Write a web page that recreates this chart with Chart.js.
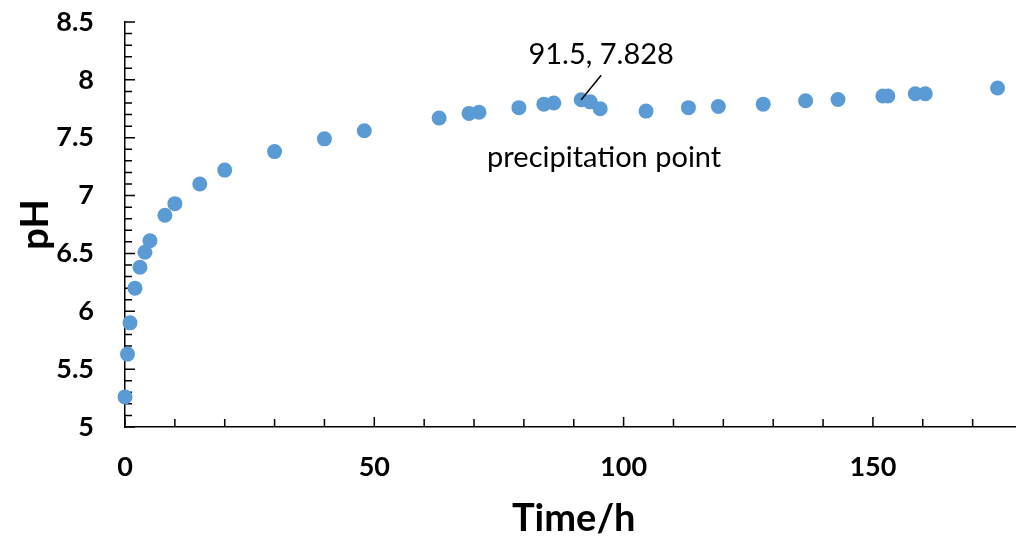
<!DOCTYPE html>
<html>
<head>
<meta charset="utf-8">
<script src="https://cdn.jsdelivr.net/npm/chart.js@4.4.1/dist/chart.umd.min.js"></script>
<style>
  html, body { margin: 0; padding: 0; background: #fff; }
  #wrap { width: 1016px; height: 540px; overflow: hidden; position: relative; }
  #phChart { display: block; }
</style>
</head>
<body>
<div id="wrap">
  <canvas id="phChart" width="1030" height="540"></canvas>
</div>
<script>
// pH over time
const timeH = [0, 0.5, 1, 2, 3, 4, 5, 8, 10, 15, 20, 30, 40, 48, 63, 69, 71, 79, 84, 86,
               91.5, 93.3, 95.3, 104.5, 113, 119, 128, 136.5, 143, 152, 153, 158.5, 160.5, 175];
const pH = [5.26, 5.63, 5.90, 6.20, 6.38, 6.51, 6.61, 6.83, 6.93, 7.10, 7.22, 7.38, 7.49, 7.56, 7.67, 7.71, 7.72, 7.76, 7.79, 7.80,
            7.828, 7.81, 7.75, 7.73, 7.76, 7.77, 7.79, 7.82, 7.83, 7.86, 7.86, 7.88, 7.88, 7.93];

// the marked precipitation point
const precipTime = [91.5];
const precipPH = [7.828];
const precipLabel = "91.5, 7.828";
const precipNote = "precipitation point";

const xTicks = [0, 50, 100, 150];
const yTicks = [5, 5.5, 6, 6.5, 7, 7.5, 8, 8.5];

const fontFamily = "Lato, 'Open Sans', sans-serif";

// small inside tick marks like the original (every 0.1 on y, every 10 on x)
const innerTicks = {
    id: "innerTicks",
    beforeDatasetsDraw(chart) {
        const ctx = chart.ctx;
        const xs = chart.scales.x;
        const ys = chart.scales.y;
        const x0 = xs.getPixelForValue(0);
        const y0 = ys.getPixelForValue(5);
        ctx.save();
        ctx.strokeStyle = "#000";
        ctx.lineWidth = 1.5;
        ctx.beginPath();
        for (let i = 0; i <= 35; i++) {
            let py = ys.getPixelForValue(5 + i / 10);
            let len = (i % 5 === 0) ? 10 : 7;
            ctx.moveTo(x0, py);
            ctx.lineTo(x0 + len, py);
        }
        for (let i = 0; i <= 18; i++) {
            let px = xs.getPixelForValue(i * 10);
            let len = (i % 5 === 0) ? 10 : 8;
            ctx.moveTo(px, y0);
            ctx.lineTo(px, y0 - len);
        }
        ctx.stroke();
        ctx.restore();
    }
};

// label and leader line for the precipitation point
const precipNotes = {
    id: "precipNotes",
    afterDatasetsDraw(chart) {
        const ctx = chart.ctx;
        const xs = chart.scales.x;
        const ys = chart.scales.y;
        const px = xs.getPixelForValue(precipTime[0]);
        const py = ys.getPixelForValue(precipPH[0]);
        ctx.save();
        ctx.strokeStyle = "#000";
        ctx.lineWidth = 1.5;
        ctx.beginPath();
        ctx.moveTo(px, py);
        ctx.lineTo(xs.getPixelForValue(95.5), ys.getPixelForValue(8.04));
        ctx.stroke();

        ctx.fillStyle = "#000";
        ctx.textAlign = "center";
        ctx.textBaseline = "middle";
        ctx.font = "29px " + fontFamily;
        ctx.fillText(precipLabel, xs.getPixelForValue(95.5), ys.getPixelForValue(8.22));
        ctx.fillText(precipNote, xs.getPixelForValue(96.1), ys.getPixelForValue(7.33));
        ctx.restore();
    }
};

let ctx = document.getElementById("phChart").getContext("2d");

new Chart(ctx, {
    type: "scatter",
    data: {
        datasets: [{
            label: "pH",
            data: timeH.map((t, i) => ({ x: t, y: pH[i] })),
            backgroundColor: "#5B9BD5",
            borderWidth: 0,
            pointRadius: 7.5,
            clip: false
        }, {
            label: "precipitation",
            data: precipTime.map((t, i) => ({ x: t, y: precipPH[i] })),
            backgroundColor: "#FF0000",
            borderColor: "#C00000",
            borderWidth: 1,
            pointRadius: 5.5,
            clip: false
        }]
    },
    options: {
        responsive: false,
        animation: false,
        events: [],
        layout: { padding: { top: 22, right: 6, left: 0, bottom: 0 } },
        plugins: {
            legend: { display: false },
            tooltip: { enabled: false }
        },
        scales: {
            x: {
                type: "linear",
                min: 0,
                max: 180,
                afterFit: scale => { scale.height = 113; },
                afterBuildTicks: scale => { scale.ticks = xTicks.map(v => ({ value: v })); },
                grid: { display: true, drawOnChartArea: false, drawTicks: false },
                border: { display: true, color: "#000", width: 1.5 },
                ticks: {
                    color: "#000",
                    padding: 24,
                    callback: v => String(v),
                    font: { family: fontFamily, size: 27, weight: "bold" }
                },
                title: {
                    display: true,
                    text: "Time/h",
                    color: "#000",
                    padding: { top: 0, bottom: 2 },
                    font: { family: fontFamily, size: 38, weight: "bold", lineHeight: 1 }
                }
            },
            y: {
                type: "linear",
                min: 5,
                max: 8.5,
                afterFit: scale => {
                    scale.width = 125;
                    // label padding is horizontal here, don't let it push the plot down
                    scale.paddingTop = 14;
                    scale.paddingBottom = 14;
                },
                afterBuildTicks: scale => { scale.ticks = yTicks.map(v => ({ value: v })); },
                grid: { display: true, drawOnChartArea: false, drawTicks: false },
                border: { display: true, color: "#000", width: 1.5 },
                ticks: {
                    color: "#000",
                    padding: 31,
                    callback: v => String(v),
                    font: { family: fontFamily, size: 27, weight: "bold" }
                },
                title: {
                    display: true,
                    text: "pH",
                    color: "#000",
                    padding: { top: 13, bottom: 0 },
                    font: { family: fontFamily, size: 38, weight: "bold", lineHeight: 1.2 }
                }
            }
        }
    },
    plugins: [innerTicks, precipNotes]
});
</script>
</body>
</html>
